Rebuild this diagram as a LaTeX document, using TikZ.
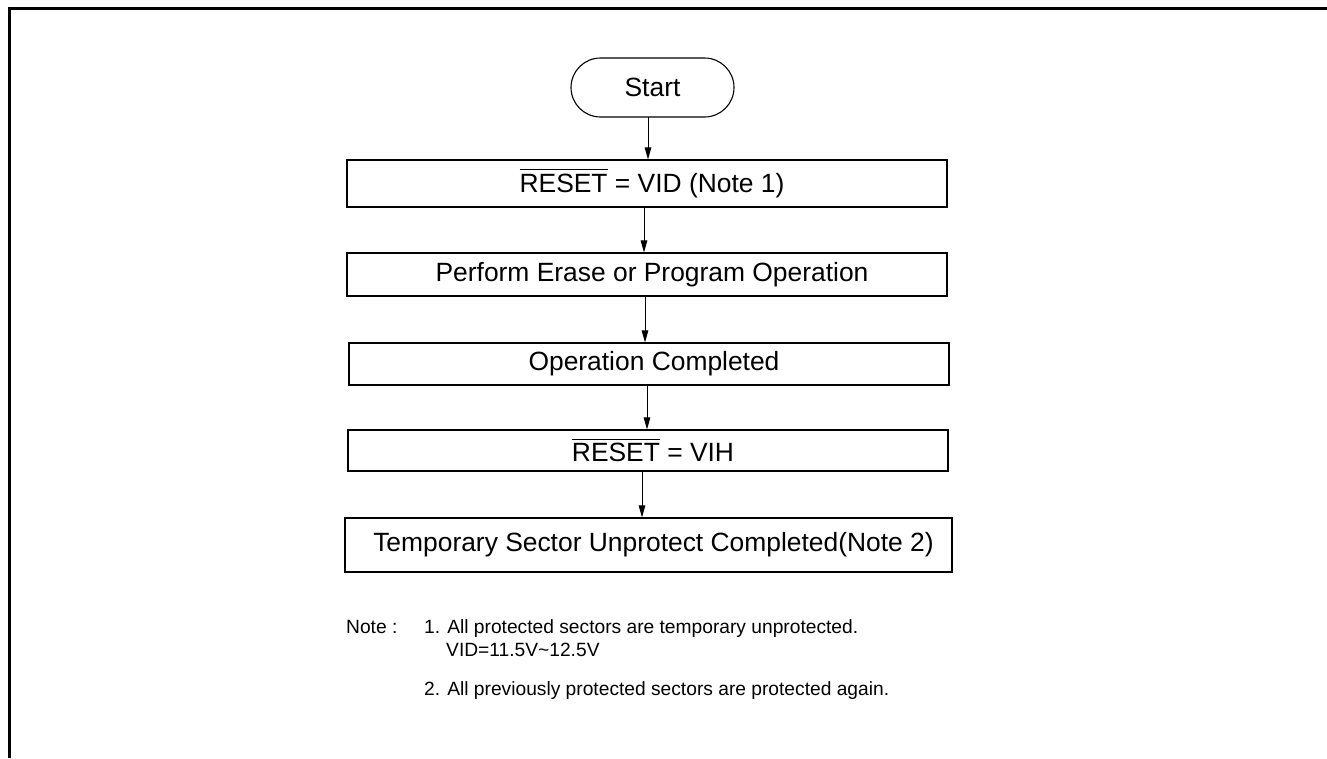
\documentclass[tikz,border=0pt]{standalone}
\usepackage{fontspec}
\setmainfont{Liberation Sans}
\usetikzlibrary{arrows.meta,shapes.misc}
\newcommand\ovl[1]{\leavevmode\vbox{\hrule height 1.1pt\kern 3.5pt\hbox{#1}}}
\begin{document}
\begin{tikzpicture}[x=1pt,y=-1pt,
  frame/.style={line width=2.2pt, draw=black},
  box/.style={draw, line width=1.1pt, minimum width=600pt, inner sep=0pt,
    font=\fontsize{26.4}{31}\selectfont, execute at begin node={\hspace*{10pt}}},
  term/.style={draw, rounded rectangle, line width=1.1pt, minimum width=163pt, minimum height=59pt, inner sep=0pt, font=\fontsize{26.4}{31}\selectfont},
  arr/.style={-{Stealth[length=12pt,width=6.5pt,inset=0pt]}, line width=0.9pt},
  note/.style={inner sep=0pt, anchor=base west, font=\fontsize{19.2}{23}\selectfont}]
\useasboundingbox (0,0) rectangle (1327,758);
\draw[frame] (9.5,758) -- (9.5,8.5) -- (1327,8.5);
\node[term] (start) at (652.5,87.5) {Start};
\node[box, minimum height=47pt] (b1) at (647,183.5) {\ovl{RESET} = VID (Note 1)};
\node[box, minimum height=43pt] (b2) at (647,274.5) {Perform Erase or Program Operation};
\node[box, minimum height=42pt] (b3) at (649,364) {Operation Completed};
\node[box, minimum height=41pt] (b4) at (648,450.5) {\ovl{RESET} = VIH};
\node[box, minimum height=54pt, minimum width=607pt] (b5) at (648.5,545) {Temporary Sector Unprotect Completed(Note 2)};
\coordinate (a0) at (648,117);
\draw[arr] (a0) -- (a0 |- b1.north);
\draw[arr] (644,207) coordinate (a1) -- (a1 |- b2.north);
\draw[arr] (645,296) coordinate (a2) -- (a2 |- b3.north);
\draw[arr] (647,385) coordinate (a3) -- (a3 |- b4.north);
\draw[arr] (642,471) coordinate (a4) -- (a4 |- b5.north);
\node[note] (n0) at (346,633) {Note :};
\node[note] (n1) at (424,633) {1. All protected sectors are temporary unprotected.};
\node[note] (n1b) at (446,656) {VID=11.5V\textasciitilde12.5V};
\node[note] (n2) at (424,695) {2. All previously protected sectors are protected again.};
\end{tikzpicture}
\end{document}
